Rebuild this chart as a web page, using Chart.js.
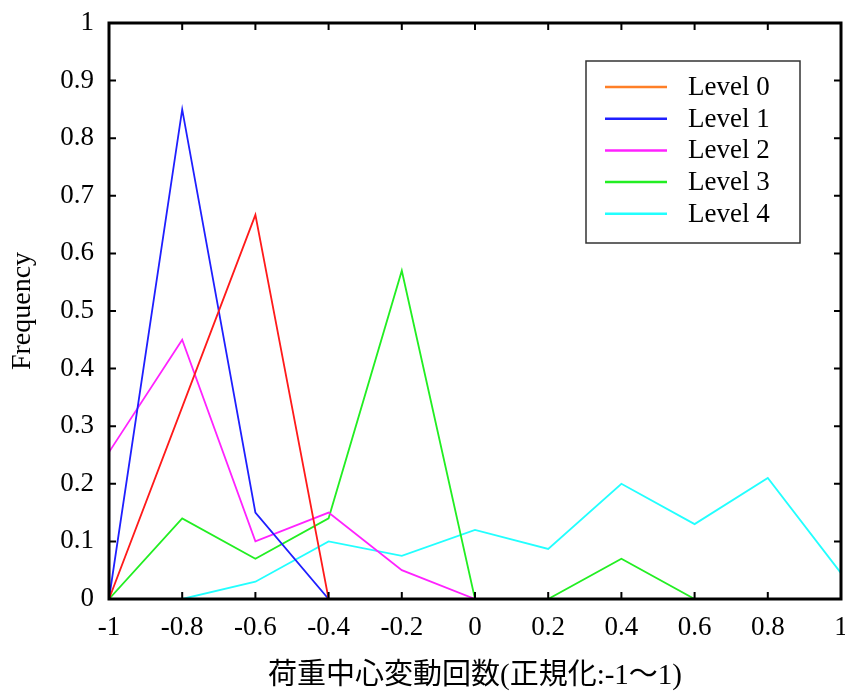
<!DOCTYPE html>
<html>
<head>
<meta charset="utf-8">
<script src="https://cdn.jsdelivr.net/npm/chart.js@4/dist/chart.umd.min.js"></script>
<style>
  html, body { margin: 0; padding: 0; background: #fff; }
  canvas { display: block; }
</style>
</head>
<body>
<canvas id="chart" width="845" height="697"></canvas>
<script>
// x categories (normalised count) and y tick labels
const xLabels = ['-1', '-0.8', '-0.6', '-0.4', '-0.2', '0', '0.2', '0.4', '0.6', '0.8', '1'];
const yTickLabels = ['0', '0.1', '0.2', '0.3', '0.4', '0.5', '0.6', '0.7', '0.8', '0.9', '1'];

// frequency per level
const level0 = [0, 0.333, 0.667, 0, 0, 0, 0, 0, 0, 0, 0];
const level1 = [0, 0.85, 0.15, 0, 0, 0, 0, 0, 0, 0, 0];
const level2 = [0.255, 0.45, 0.1, 0.15, 0.05, 0, 0, 0, 0, 0, 0];
const level3 = [0, 0.14, 0.07, 0.14, 0.57, 0, 0, 0.07, 0, 0, 0];
const level4 = [0, 0, 0.03, 0.1, 0.075, 0.12, 0.087, 0.2, 0.13, 0.21, 0.045];

const seriesNames = ['Level 0', 'Level 1', 'Level 2', 'Level 3', 'Level 4'];
const lineColors = ['#ff1a1a', '#1f1fff', '#ff22ff', '#22ee22', '#22ffff'];
const legendColors = ['#ff7f27', '#1f1fff', '#ff22ff', '#22ee22', '#22ffff'];

const serif = '"Liberation Serif", "Times New Roman", serif';
const cjk = '"Liberation Serif", "Noto Sans CJK JP", serif';

// frame and inward ticks drawn on top of the lines
const framePlugin = {
  id: 'frame',
  afterDatasetsDraw(chart) {
    const { ctx, chartArea: a, scales } = chart;
    ctx.save();
    ctx.strokeStyle = '#000';
    ctx.lineWidth = 2;
    scales.y.ticks.forEach((t, i) => {
      const y = scales.y.getPixelForTick(i);
      ctx.beginPath();
      ctx.moveTo(a.left, y); ctx.lineTo(a.left + 7, y);
      ctx.moveTo(a.right, y); ctx.lineTo(a.right - 7, y);
      ctx.stroke();
    });
    scales.x.ticks.forEach((t, i) => {
      const x = scales.x.getPixelForTick(i);
      ctx.beginPath();
      ctx.moveTo(x, a.top); ctx.lineTo(x, a.top + 7);
      ctx.moveTo(x, a.bottom); ctx.lineTo(x, a.bottom - 7);
      ctx.stroke();
    });
    ctx.lineWidth = 3;
    ctx.strokeRect(a.left, a.top, a.right - a.left, a.bottom - a.top);
    ctx.restore();
  }
};

// boxed legend inside the plot, top right
const boxLegendPlugin = {
  id: 'boxLegend',
  afterDraw(chart) {
    const { ctx, chartArea: a } = chart;
    const boxW = 214, boxH = 182;
    const bx = a.right - 41 - boxW;
    const by = a.top + 38;
    ctx.save();
    ctx.fillStyle = '#fff';
    ctx.fillRect(bx, by, boxW, boxH);
    ctx.strokeStyle = '#333';
    ctx.lineWidth = 1.5;
    ctx.strokeRect(bx, by, boxW, boxH);
    ctx.font = '27px ' + serif;
    ctx.textBaseline = 'middle';
    ctx.fillStyle = '#000';
    chart.data.datasets.forEach((ds, i) => {
      const y = by + 26 + i * 31.7;
      ctx.strokeStyle = legendColors[i];
      ctx.lineWidth = 2.5;
      ctx.beginPath();
      ctx.moveTo(bx + 19, y);
      ctx.lineTo(bx + 81, y);
      ctx.stroke();
      ctx.fillText(ds.label, bx + 102, y + 1);
    });
    ctx.restore();
  }
};

const allSeries = [level0, level1, level2, level3, level4];

new Chart(document.getElementById('chart'), {
  type: 'line',
  data: {
    labels: xLabels,
    datasets: allSeries.map((vals, i) => ({
      label: seriesNames[i],
      data: vals,
      borderColor: lineColors[i],
      backgroundColor: lineColors[i],
      borderWidth: 1.8,
      pointRadius: 0,
      tension: 0,
      fill: false
    }))
  },
  options: {
    responsive: false,
    animation: false,
    layout: { padding: { top: 23, right: 4, left: 0, bottom: 0 } },
    plugins: { legend: { display: false }, tooltip: { enabled: false } },
    scales: {
      x: {
        type: 'category',
        offset: false,
        grid: { display: false, drawTicks: false },
        border: { display: false },
        ticks: { color: '#000', font: { family: serif, size: 27 }, padding: 13, maxRotation: 0, autoSkip: false },
        title: {
          display: true,
          text: '荷重中心変動回数(正規化:-1〜1)',
          color: '#000',
          font: { family: cjk, size: 29 },
          padding: { top: 0, bottom: 3 }
        },
        afterFit(scale) {
          scale.height = 98;
          scale.paddingLeft = 0;
          scale.paddingRight = 0;
        }
      },
      y: {
        min: 0,
        max: 1,
        grid: { display: false, drawTicks: false },
        border: { display: false },
        ticks: {
          stepSize: 0.1,
          color: '#000',
          font: { family: serif, size: 27 },
          padding: 15,
          callback: (v, i) => yTickLabels[i]
        },
        title: {
          display: true,
          text: 'Frequency',
          color: '#000',
          font: { family: serif, size: 28 },
          padding: { top: 6, bottom: 0 }
        },
        afterFit(scale) {
          scale.width = 109;
          scale.paddingTop = 0;
          scale.paddingBottom = 0;
        }
      }
    }
  },
  plugins: [framePlugin, boxLegendPlugin]
});
</script>
</body>
</html>
